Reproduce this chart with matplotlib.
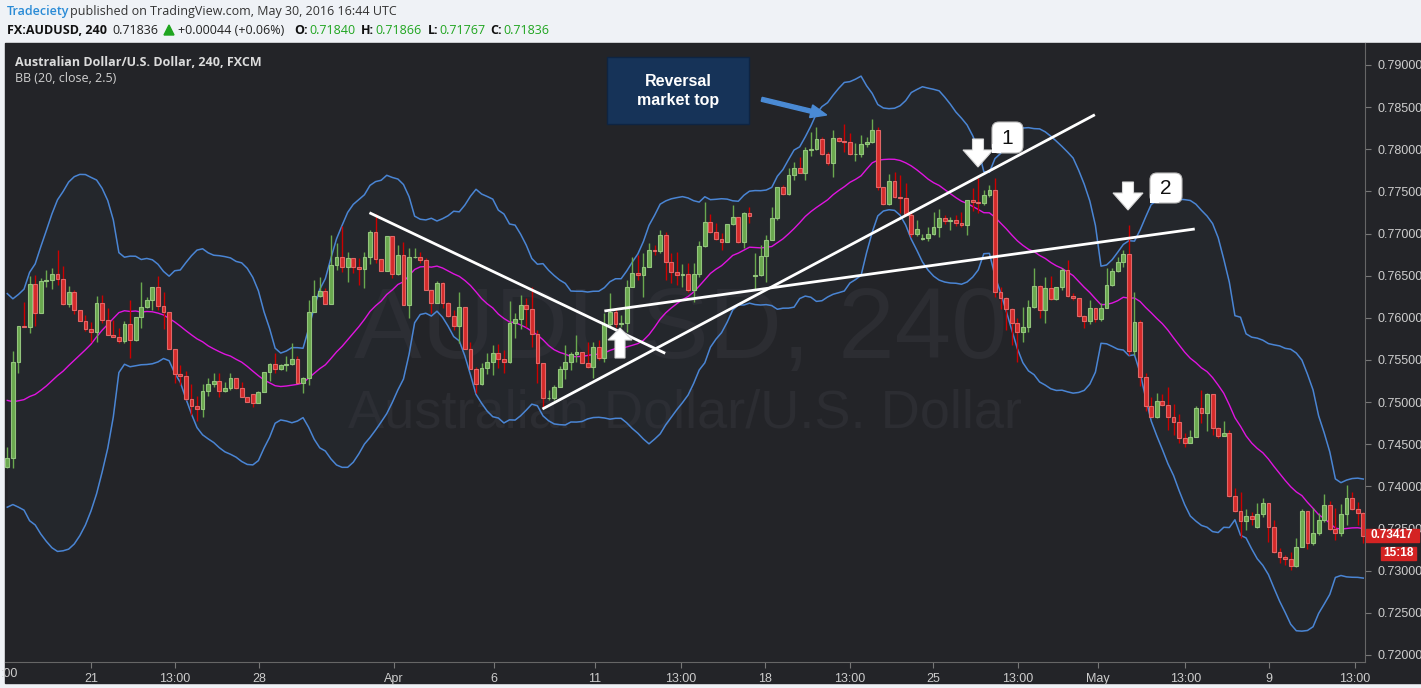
import numpy as np
import pandas as pd
import matplotlib
matplotlib.use("Agg")
import matplotlib.pyplot as plt
from matplotlib.patches import Rectangle, FancyBboxPatch, FancyArrow, Polygon
from matplotlib.transforms import Affine2D

W, H = 1421, 688

# AUD/USD 4h candles
closes = [
    0.74341, 0.75480, 0.75907, 0.75895, 0.76398, 0.76053, 0.76437, 0.76449, 0.76516, 0.76457,
    0.76160, 0.76303, 0.76093, 0.75962, 0.75864, 0.75832, 0.76172, 0.75974, 0.75796, 0.75769,
    0.75721, 0.75923, 0.75737, 0.76006, 0.76125, 0.76212, 0.76362, 0.76141, 0.76069, 0.75630,
    0.75330, 0.75310, 0.75033, 0.74954, 0.74914, 0.75132, 0.75211, 0.75251, 0.75132, 0.75164,
    0.75282, 0.75164, 0.75057, 0.75005, 0.74994, 0.75124, 0.75361, 0.75448, 0.75389, 0.75441,
    0.75448, 0.75508, 0.75231, 0.75290, 0.76073, 0.76263, 0.76315, 0.76160, 0.76627, 0.76726,
    0.76607, 0.76706, 0.76607, 0.76576, 0.76718, 0.77015, 0.76702, 0.76560, 0.76971, 0.76516,
    0.76746, 0.76148, 0.76718, 0.76726, 0.76686, 0.76330, 0.76180, 0.76409, 0.76180, 0.76022,
    0.75907, 0.76125, 0.75626, 0.75389, 0.75211, 0.75401, 0.75480, 0.75579, 0.75508, 0.75472,
    0.75935, 0.75982, 0.76152, 0.76101, 0.75808, 0.75460, 0.75045, 0.75045, 0.75183, 0.75389,
    0.75480, 0.75571, 0.75591, 0.75460, 0.75421, 0.75650, 0.75520, 0.75923, 0.76073, 0.75923,
    0.75935, 0.76362, 0.76536, 0.76508, 0.76599, 0.76805, 0.76797, 0.76983, 0.76659, 0.76548,
    0.76508, 0.76516, 0.76330, 0.76516, 0.76852, 0.77133, 0.77023, 0.76932, 0.76904, 0.77110,
    0.77193, 0.76904, 0.77240, 0.77212, 0.76508, 0.76734, 0.76924, 0.77181, 0.77549, 0.77466,
    0.77695, 0.77774, 0.77723, 0.77992, 0.77999, 0.78118, 0.77940, 0.77833, 0.78130, 0.78102,
    0.78090, 0.77940, 0.77944, 0.78063, 0.78086, 0.78229, 0.77549, 0.77347, 0.77624, 0.77438,
    0.77418, 0.77220, 0.76991, 0.77050, 0.76943, 0.76991, 0.77074, 0.77181, 0.77149, 0.77157,
    0.77121, 0.77102, 0.77398, 0.77378, 0.77359, 0.77458, 0.77517, 0.76311, 0.76239, 0.76101,
    0.75935, 0.75836, 0.75895, 0.76125, 0.76378, 0.76093, 0.76358, 0.76220, 0.76362, 0.76568,
    0.76263, 0.76231, 0.76022, 0.75966, 0.76113, 0.75982, 0.76113, 0.76390, 0.76556, 0.76659,
    0.76754, 0.75611, 0.75947, 0.75294, 0.74958, 0.74827, 0.75009, 0.74970, 0.74827, 0.74768,
    0.74570, 0.74511, 0.74582, 0.74926, 0.74867, 0.75092, 0.74697, 0.74602, 0.74630, 0.73890,
    0.73712, 0.73590, 0.73653, 0.73609, 0.73669, 0.73799, 0.73514, 0.73218, 0.73158, 0.73139,
    0.73056, 0.73285, 0.73708, 0.73325, 0.73443, 0.73601, 0.73775, 0.73495, 0.73443, 0.73669,
    0.73858, 0.73728, 0.73688, 0.73417,
]
highs = [
    0.74471, 0.75611, 0.75907, 0.76192, 0.76496, 0.76508, 0.76469, 0.76568, 0.76587, 0.76805,
    0.76615, 0.76378, 0.76330, 0.76093, 0.76034, 0.75955, 0.76259, 0.76271, 0.76113, 0.75974,
    0.75876, 0.75962, 0.76212, 0.76006, 0.76429, 0.76251, 0.76370, 0.76496, 0.76311, 0.76065,
    0.75630, 0.75440, 0.75369, 0.75215, 0.75073, 0.75215, 0.75282, 0.75342, 0.75342, 0.75243,
    0.75342, 0.75282, 0.75243, 0.75057, 0.75092, 0.75132, 0.75361, 0.75460, 0.75579, 0.75448,
    0.75551, 0.75698, 0.75547, 0.75302, 0.76212, 0.76449, 0.76489, 0.76350, 0.76983, 0.76884,
    0.77090, 0.76785, 0.76706, 0.76706, 0.76785, 0.77042, 0.77228, 0.76702, 0.76971, 0.76971,
    0.76864, 0.76904, 0.76825, 0.76825, 0.76777, 0.76706, 0.76330, 0.76441, 0.76429, 0.76184,
    0.76093, 0.76311, 0.76125, 0.75717, 0.75421, 0.75460, 0.75587, 0.75678, 0.75686, 0.75618,
    0.76204, 0.76061, 0.76271, 0.76231, 0.76370, 0.75856, 0.75460, 0.75144, 0.75203, 0.75429,
    0.75678, 0.75599, 0.75796, 0.75599, 0.75717, 0.75717, 0.75737, 0.76053, 0.76291, 0.76113,
    0.76034, 0.76449, 0.76726, 0.76746, 0.76765, 0.76892, 0.76864, 0.77042, 0.77022, 0.76765,
    0.76785, 0.76639, 0.76647, 0.76647, 0.76912, 0.77379, 0.77232, 0.77129, 0.77011, 0.77110,
    0.77339, 0.77201, 0.77260, 0.77319, 0.76765, 0.76864, 0.76983, 0.77319, 0.77549, 0.77576,
    0.77774, 0.77853, 0.77912, 0.78031, 0.78209, 0.78268, 0.78150, 0.77972, 0.78229, 0.78150,
    0.78300, 0.78189, 0.78071, 0.78170, 0.78150, 0.78355, 0.78260, 0.77556, 0.77707, 0.77734,
    0.77695, 0.77596, 0.77260, 0.77161, 0.76991, 0.77082, 0.77260, 0.77287, 0.77220, 0.77200,
    0.77220, 0.77260, 0.77398, 0.77545, 0.77655, 0.77517, 0.77576, 0.77655, 0.76370, 0.76251,
    0.76113, 0.75994, 0.76133, 0.76212, 0.76587, 0.76390, 0.76489, 0.76496, 0.76370, 0.76587,
    0.76686, 0.76291, 0.76231, 0.76034, 0.76212, 0.76113, 0.76172, 0.76587, 0.76587, 0.76718,
    0.76805, 0.77102, 0.76303, 0.75974, 0.75349, 0.75065, 0.75104, 0.75096, 0.75175, 0.74978,
    0.74855, 0.74630, 0.74669, 0.74954, 0.75144, 0.75104, 0.75092, 0.74709, 0.74776, 0.74669,
    0.73977, 0.73938, 0.73728, 0.73700, 0.73807, 0.73858, 0.73799, 0.73601, 0.73265, 0.73186,
    0.73226, 0.73384, 0.73728, 0.73708, 0.73748, 0.73688, 0.73906, 0.73831, 0.73740, 0.73791,
    0.74017, 0.73938, 0.73819, 0.73700,
]
lows = [
    0.74214, 0.74222, 0.75342, 0.75895, 0.75824, 0.75907, 0.76053, 0.76362, 0.76338, 0.76390,
    0.76152, 0.76125, 0.76042, 0.75962, 0.75844, 0.75717, 0.75717, 0.75935, 0.75796, 0.75769,
    0.75698, 0.75698, 0.75520, 0.75729, 0.75876, 0.76113, 0.76093, 0.76093, 0.75872, 0.75630,
    0.75231, 0.75203, 0.75025, 0.74847, 0.74780, 0.74827, 0.75073, 0.75183, 0.75065, 0.75124,
    0.75144, 0.75152, 0.75057, 0.75005, 0.74938, 0.74986, 0.75124, 0.75251, 0.75342, 0.75381,
    0.75373, 0.75441, 0.75231, 0.75104, 0.75203, 0.76073, 0.76251, 0.76160, 0.76160, 0.76568,
    0.76548, 0.76429, 0.76528, 0.76390, 0.76350, 0.76639, 0.76647, 0.76560, 0.76560, 0.76469,
    0.76508, 0.76148, 0.75994, 0.76706, 0.76647, 0.76330, 0.76054, 0.76172, 0.76113, 0.76014,
    0.75856, 0.75698, 0.75626, 0.75389, 0.75104, 0.75203, 0.75330, 0.75322, 0.75401, 0.75342,
    0.75460, 0.75757, 0.75864, 0.75887, 0.75658, 0.75231, 0.74926, 0.75025, 0.75025, 0.75183,
    0.75270, 0.75381, 0.75480, 0.75460, 0.75401, 0.75282, 0.75500, 0.75480, 0.75895, 0.75895,
    0.75895, 0.75836, 0.76370, 0.76449, 0.76251, 0.76599, 0.76746, 0.76765, 0.76449, 0.76409,
    0.76390, 0.76370, 0.76311, 0.76192, 0.76489, 0.76845, 0.77003, 0.76924, 0.76805, 0.76904,
    0.77102, 0.76884, 0.76825, 0.77121, 0.76330, 0.76500, 0.76429, 0.76924, 0.77161, 0.77458,
    0.77458, 0.77636, 0.77715, 0.77636, 0.77920, 0.77992, 0.77932, 0.77813, 0.77675, 0.78090,
    0.77972, 0.77932, 0.77865, 0.77912, 0.78031, 0.78071, 0.77517, 0.77339, 0.77339, 0.77418,
    0.77240, 0.77220, 0.76963, 0.76971, 0.76924, 0.76916, 0.76983, 0.76955, 0.77113, 0.77042,
    0.77090, 0.77074, 0.76983, 0.77272, 0.77240, 0.77339, 0.77438, 0.76251, 0.76101, 0.75856,
    0.75678, 0.75480, 0.75717, 0.75836, 0.76113, 0.75994, 0.75943, 0.76212, 0.76212, 0.76330,
    0.76251, 0.76212, 0.76014, 0.75876, 0.75927, 0.75955, 0.75966, 0.76113, 0.76378, 0.76540,
    0.76607, 0.75559, 0.75559, 0.75191, 0.74895, 0.74820, 0.74808, 0.74954, 0.74669, 0.74610,
    0.74511, 0.74471, 0.74511, 0.74582, 0.74748, 0.74657, 0.74610, 0.74570, 0.74598, 0.73878,
    0.73700, 0.73384, 0.73483, 0.73542, 0.73510, 0.73641, 0.73344, 0.73206, 0.73087, 0.73067,
    0.73008, 0.73048, 0.73285, 0.73253, 0.73305, 0.73423, 0.73582, 0.73483, 0.73364, 0.73415,
    0.73542, 0.73720, 0.73542, 0.73325,
]
first_open = 0.74226
gap_opens = {44: 0.75092, 134: 0.76500, 164: 0.76932, 224: 0.73522}

# closes before the visible window, only feed the 20-period bands
warmup_closes = [0.7578, 0.7570, 0.7562, 0.7566, 0.7555, 0.7548, 0.7540, 0.7530, 0.7522, 0.7510,
                 0.7498, 0.7485, 0.7470, 0.7462, 0.7450, 0.7445, 0.7438, 0.7442, 0.7435]

price_ticks = [0.720, 0.725, 0.730, 0.735, 0.740, 0.745, 0.750, 0.755,
               0.760, 0.765, 0.770, 0.775, 0.780, 0.785, 0.790]
time_labels = ["21", "13:00", "28", "Apr", "6", "11", "13:00", "18", "13:00",
               "25", "13:00", "May", "13:00", "9", "13:00"]
time_pos = [15.0, 30.0, 45.1, 69.3, 87.2, 105.3, 120.7, 135.7, 151.0,
            165.9, 181.1, 195.5, 211.1, 226.1, 241.5]

# drawn trend lines: (bar index, price) pairs
trend_lines = [((64.9, 0.77247), (117.9, 0.75579)),
               ((95.9, 0.74918), (194.9, 0.78410)),
               ((107.0, 0.76081), (212.8, 0.77054))]
last_price = 0.73417
countdown = "15:18"

BG = "#232428"
plt.rcParams["font.family"] = ["Liberation Sans", "DejaVu Sans"]

fig = plt.figure(figsize=(W / 100, H / 100), dpi=100, facecolor="#eff2f6")
px = Affine2D().scale(1, -1).translate(0, H)   # pixel coords, origin top-left


def fxy(xp, yp):
    return xp / W, 1 - yp / H


fig.add_artist(Rectangle((5, 43), W - 5, 640, transform=px, color=BG, zorder=-5))

ax = fig.add_axes([5 / W, (H - 662) / H, 1360 / W, 619 / H])
ax.set_facecolor(BG)

n = len(closes)
x = np.arange(n)
opens = [first_open] + closes[:-1]
for i, v in gap_opens.items():
    opens[i] = v
o = np.array(opens)
c = np.array(closes)
hi = np.array(highs)
lo = np.array(lows)
up = c >= o
dn = ~up

# bollinger bands (20, close, 2.5)
s = pd.Series(warmup_closes + closes)
k = len(warmup_closes)
mid = s.rolling(20).mean().iloc[k:].to_numpy()
sd = s.rolling(20).std(ddof=0).iloc[k:].to_numpy()
upper = mid + 2.5 * sd
lower = mid - 2.5 * sd
ax.fill_between(x, lower, upper, color="#2c3440", alpha=0.2, lw=0, zorder=1)
ax.plot(x, upper, color="#4a85d4", lw=1.1, zorder=2)
ax.plot(x, lower, color="#4a85d4", lw=1.1, zorder=2)
ax.plot(x, mid, color="#e014e0", lw=1.0, zorder=2)

# candles
ax.vlines(x[up], lo[up], hi[up], color="#6aa84f", lw=1, zorder=3)
ax.vlines(x[dn], lo[dn], hi[dn], color="#cc0000", lw=1, zorder=3)
body = np.maximum(np.abs(c - o), 0.00003)
bottom = np.minimum(o, c)
ax.bar(x[up], body[up], bottom=bottom[up], width=0.68, color="#6aa84f",
       edgecolor="#93c47d", lw=0.8, zorder=4)
ax.bar(x[dn], body[dn], bottom=bottom[dn], width=0.68, color="#d42a2a",
       edgecolor="#e06666", lw=0.8, zorder=4)

for (x0, y0), (x1, y1) in trend_lines:
    ax.plot([x0, x1], [y0, y1], color="white", lw=2, zorder=6, solid_capstyle="butt")

# watermark
ax.text(681, 358, "AUDUSD, 240", transform=px, ha="center", va="baseline",
        fontsize=73, color="#2c2d32", zorder=0.5)
ax.text(685, 428, "Australian Dollar/U.S. Dollar", transform=px, ha="center",
        va="baseline", fontsize=39, color="#2c2d32", zorder=0.5)

ax.set_xlim(-0.41, 243.31)
ax.set_ylim(0.71916, 0.79261)
ax.set_yticks(price_ticks)
ax.set_yticklabels([f"{p:.5f}" for p in price_ticks])
ax.set_xticks(time_pos)
ax.set_xticklabels(time_labels)
ax.yaxis.tick_right()
ax.tick_params(axis="y", length=4, pad=5, color="#777777", labelcolor="#cdcdcd", labelsize=9)
ax.tick_params(axis="x", length=4, pad=4, color="#777777", labelcolor="#cdcdcd", labelsize=9)
for side in ("top", "left"):
    ax.spines[side].set_visible(False)
for side in ("right", "bottom"):
    ax.spines[side].set_color("#666666")
fig.text(*fxy(1, 674), ":00", ha="left", va="center", fontsize=9, color="#cdcdcd")

# last price + countdown tags
fig.add_artist(Rectangle((1366, 529), 53, 13, transform=px, color="#d42323", zorder=5))
fig.text(*fxy(1392, 535.5), f"{last_price:.5f}", ha="center", va="center",
         fontsize=8.5, color="white", fontweight="bold", zorder=6)
fig.add_artist(Rectangle((1381, 547), 35, 13, transform=px, color="#d42323", zorder=5))
fig.text(*fxy(1398, 553.5), countdown, ha="center", va="center",
         fontsize=8.5, color="white", fontweight="bold", zorder=6)

# legend text in the chart
fig.text(*fxy(15, 62), "Australian Dollar/U.S. Dollar, 240, FXCM", ha="left", va="center",
         fontsize=9, color="#dcdcdc", fontweight="bold", family="Open Sans")
fig.text(*fxy(15, 78), "BB (20, close, 2.5)", ha="left", va="center",
         fontsize=9, color="#d0d0d0", family="Open Sans")

# header
hdr = dict(va="center", fontsize=9, family="Open Sans")
fig.text(*fxy(7, 12), "Tradeciety", color="#2a8bd6", fontweight="semibold", **hdr)
fig.text(*fxy(70, 12), "published on TradingView.com, May 30, 2016 16:44 UTC", color="#333333", **hdr)
fig.text(*fxy(7, 30), "FX:AUDUSD, 240", color="#111111", fontweight="bold", **hdr)
fig.text(*fxy(112, 30), "0.71836", color="#222222", **hdr)
fig.add_artist(Polygon([(164, 35), (174, 35), (169, 25)], transform=px, color="#1fa51f"))
fig.text(*fxy(178, 30), "+0.00044 (+0.06%)", color="#222222", **hdr)
for lx, lab, vx, val in [(294, "O:", 309, "0.71840"), (361, "H:", 375, "0.71866"),
                         (428, "L:", 439, "0.71767"), (490, "C:", 503, "0.71836")]:
    fig.text(*fxy(lx, 30), lab, color="#111111", fontweight="bold", **hdr)
    fig.text(*fxy(vx, 30), val, color="#1fa51f", **hdr)

# annotation box
fig.add_artist(Rectangle((607, 57), 142, 67, transform=px, facecolor="#163358",
                         edgecolor="#0e2442", lw=1, zorder=6))
fig.text(*fxy(678, 81), "Reversal", ha="center", va="center", fontsize=11.5,
         color="white", fontweight="bold", zorder=7)
fig.text(*fxy(678, 100), "market top", ha="center", va="center", fontsize=11.5,
         color="white", fontweight="bold", zorder=7)
fig.add_artist(FancyArrow(761.7, 99.3, 65, 15.7, width=4, head_width=13, head_length=16,
                          length_includes_head=True, transform=px, color="#4a8ad4", zorder=6))


def block_arrow(cx, tail, tip, base, head_half, shaft_half):
    pts = [(cx, tip), (cx + head_half, base), (cx + shaft_half, base), (cx + shaft_half, tail),
           (cx - shaft_half, tail), (cx - shaft_half, base), (cx - head_half, base)]
    fig.add_artist(Polygon(pts, transform=px, facecolor="white", edgecolor="#d8d8d8",
                           lw=0.8, zorder=6))


block_arrow(620, 358, 328, 340, 12, 5)
block_arrow(978, 139, 167, 150, 15, 5.5)
block_arrow(1128, 182, 210, 193, 15, 5.5)


def callout(x0, y0, w, h, label):
    fig.add_artist(FancyBboxPatch((x0, y0), w, h, boxstyle="round,pad=0,rounding_size=7",
                                  transform=px, facecolor="white", edgecolor="#bbbbbb",
                                  lw=0.8, zorder=6))
    fig.add_artist(Rectangle((x0, y0 + h - 9), 9, 9, transform=px, facecolor="white",
                             lw=0, zorder=6.5))
    fig.text(*fxy(x0 + w / 2, y0 + h / 2 + 1), label, ha="center", va="center",
             fontsize=15, color="#111111", zorder=7)


callout(992, 122, 31, 31, "1")
callout(1150, 173, 32, 30, "2")

fig.savefig("out.png", dpi=100, facecolor=fig.get_facecolor())
